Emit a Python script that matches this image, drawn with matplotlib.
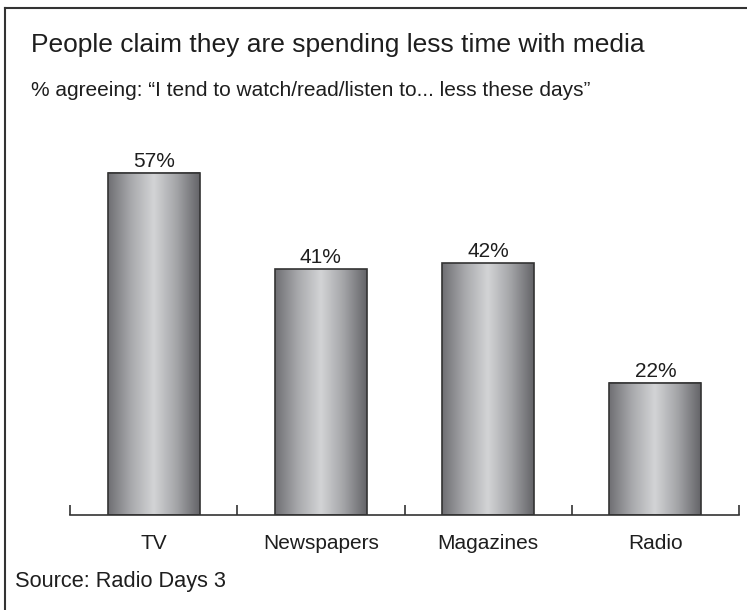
import numpy as np
import matplotlib
matplotlib.use('Agg')
import matplotlib.pyplot as plt
from matplotlib.colors import LinearSegmentedColormap
from matplotlib.lines import Line2D

plt.rcParams['font.family'] = ['Liberation Sans', 'DejaVu Sans']

# Survey results
categories = ['TV', 'Newspapers', 'Magazines', 'Radio']
values = [57, 41, 42, 22]

title = 'People claim they are spending less time with media'
subtitle = '% agreeing: \u201cI tend to watch/read/listen to... less these days\u201d'
source = 'Source: Radio Days 3'

W, H = 747, 610
fig = plt.figure(figsize=(W / 100, H / 100), dpi=100)
ax = fig.add_axes([70 / W, 95 / H, 669 / W, 360 / H])

# metallic shading across each bar
shade = LinearSegmentedColormap.from_list(
    'shade', ['#6f6f73', '#a8a9ac', '#d3d4d6', '#a3a4a7', '#646468'])
grad = np.linspace(0, 1, 256).reshape(1, -1)

x = np.arange(len(categories))
width = 0.55
bars = ax.bar(x, values, width, facecolor='none', edgecolor='#333333',
              linewidth=1.2, zorder=3)
for b, v in zip(bars, values):
    x0 = b.get_x()
    ax.imshow(grad, cmap=shade, aspect='auto', extent=(x0, x0 + width, 0, v),
              interpolation='bicubic', zorder=2)
    ax.text(x0 + width / 2, v + 0.3, f'{v}%', ha='center', va='bottom',
            fontsize=15, color='#1e1e1e')

ax.set_xlim(-0.5, len(categories) - 0.5)
ax.set_ylim(0, 60)

# separator ticks between categories, labels centred under bars
ax.set_xticks(np.arange(len(categories) + 1) - 0.5)
ax.set_xticklabels([])
ax.set_xticks(x, minor=True)
ax.set_xticklabels(categories, minor=True, fontsize=15, color='#1e1e1e')
ax.tick_params(axis='x', which='major', direction='in', length=7, width=1.2,
               color='#333333')
ax.tick_params(axis='x', which='minor', length=0, pad=14)
ax.set_yticks([])
for s in ['left', 'right', 'top']:
    ax.spines[s].set_visible(False)
ax.spines['bottom'].set_color('#333333')
ax.spines['bottom'].set_linewidth(1.2)

fig.text(31 / W, 1 - 45 / H, title, fontsize=19, va='center', color='#1e1e1e')
fig.text(31 / W, 1 - 90 / H, subtitle, fontsize=15, va='center', color='#1e1e1e')
fig.text(15 / W, 1 - 582 / H, source, fontsize=15.7, va='center', color='#1e1e1e')

# frame around the panel
fig.add_artist(Line2D([5 / W, 5 / W], [0, 1 - 8 / H], color='#333333', lw=1.5))
fig.add_artist(Line2D([5 / W, 1], [1 - 8 / H, 1 - 8 / H], color='#333333', lw=1.5))

fig.savefig('out.png', dpi=100)
